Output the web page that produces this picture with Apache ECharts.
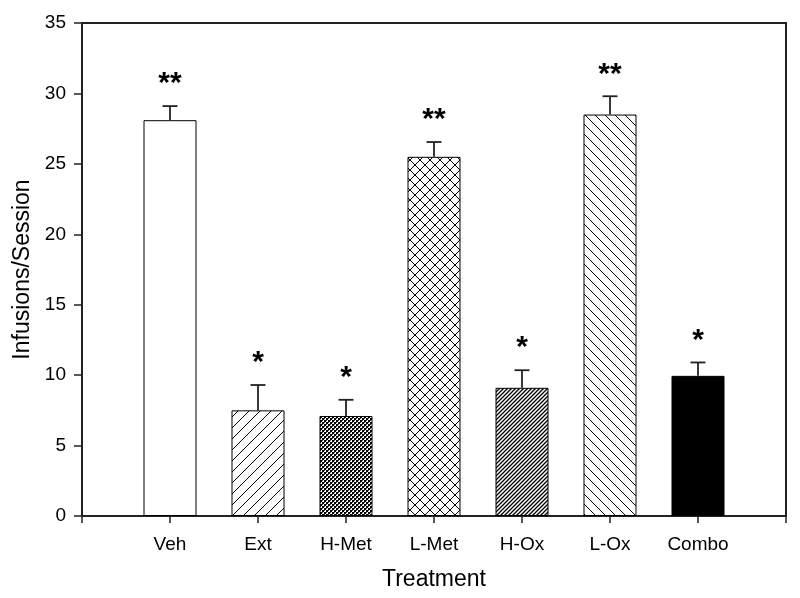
<!DOCTYPE html>
<html>
<head>
<meta charset="utf-8">
<script src="https://cdn.jsdelivr.net/npm/echarts@6/dist/echarts.min.js"></script>
<style>html,body{margin:0;padding:0;background:#fff}#c{width:800px;height:598px}</style>
</head>
<body>
<div id="c"></div>
<script>
// ---- data ----
const categories = ['Veh', 'Ext', 'H-Met', 'L-Met', 'H-Ox', 'L-Ox', 'Combo'];
const means = [28.1, 7.5, 7.1, 25.5, 9.1, 28.5, 9.95];
const errors = [1.0, 1.8, 1.15, 1.05, 1.25, 1.3, 0.95];
const stars = ['**', '*', '*', '**', '*', '**', '*'];
const yTicks = [0, 5, 10, 15, 20, 25, 30, 35];

// ---- patterns ----
function tile(size, draw, bg) {
  const c = document.createElement('canvas');
  c.width = size; c.height = size;
  const ctx = c.getContext('2d');
  ctx.fillStyle = bg || '#fff';
  ctx.fillRect(0, 0, size, size);
  ctx.strokeStyle = '#000';
  ctx.fillStyle = '#000';
  draw(ctx, size);
  return { image: c, repeat: 'repeat' };
}
function fwd(ctx, s) {
  ctx.beginPath();
  ctx.moveTo(-1, s + 1); ctx.lineTo(s + 1, -1);
  ctx.moveTo(-1, 1); ctx.lineTo(1, -1);
  ctx.moveTo(s - 1, s + 1); ctx.lineTo(s + 1, s - 1);
  ctx.stroke();
}
function back(ctx, s) {
  ctx.beginPath();
  ctx.moveTo(-1, -1); ctx.lineTo(s + 1, s + 1);
  ctx.moveTo(s - 1, -1); ctx.lineTo(s + 1, 1);
  ctx.moveTo(-1, s - 1); ctx.lineTo(1, s + 1);
  ctx.stroke();
}
const fills = [
  '#ffffff',
  tile(11, (ctx, s) => { ctx.lineWidth = 1; fwd(ctx, s); }),
  tile(4, (ctx, s) => { ctx.fillRect(0, 0, 2, 2); ctx.fillRect(2, 2, 2, 2); ctx.fillStyle='#444'; ctx.fillRect(2,0,1,1); ctx.fillRect(0,2,1,1); }),
  tile(10, (ctx, s) => { ctx.lineWidth = 1; fwd(ctx, s); back(ctx, s); }),
  tile(4, (ctx, s) => { ctx.lineWidth = 1.3; fwd(ctx, s); }),
  tile(10, (ctx, s) => { ctx.lineWidth = 1; back(ctx, s); }),
  '#000000'
];

const font = 'Arial, "Liberation Sans", Helvetica, sans-serif';

const barData = categories.map((c, i) => ({
  value: [i + 1, means[i]],
  itemStyle: { color: fills[i], borderColor: '#000', borderWidth: 1 }
}));
const errData = categories.map((c, i) => [i + 1, means[i], means[i] + errors[i], i]);

const chart = echarts.init(document.getElementById('c'), null, { renderer: 'canvas' });
chart.setOption({
  animation: false,
  backgroundColor: '#fff',
  grid: { left: 82, right: 14, top: 23, bottom: 82, show: true, borderColor: '#222', borderWidth: 2, backgroundColor: 'transparent' },
  xAxis: {
    type: 'value', min: 0, max: 8, interval: 1,
    name: 'Treatment', nameLocation: 'middle', nameGap: 52,
    nameTextStyle: { fontSize: 23, color: '#000', fontFamily: font },
    axisLine: { show: true, onZero: false, lineStyle: { color: '#222', width: 2 } },
    axisTick: { show: true, inside: false, length: 7, lineStyle: { color: '#222', width: 1.5 } },
    splitLine: { show: false },
    axisLabel: {
      margin: 19, fontSize: 19, color: '#000', fontFamily: font,
      formatter: v => (v >= 1 && v <= categories.length) ? categories[v - 1] : ''
    }
  },
  yAxis: {
    type: 'value', min: 0, max: 35, interval: 5,
    name: 'Infusions/Session', nameLocation: 'middle', nameGap: 48,
    nameTextStyle: { fontSize: 23, color: '#000', fontFamily: font },
    axisLine: { show: true, lineStyle: { color: '#222', width: 2 } },
    axisTick: { show: true, inside: false, length: 8, lineStyle: { color: '#222', width: 1.5 } },
    splitLine: { show: false },
    axisLabel: { margin: 16, fontSize: 19, color: '#000', fontFamily: font,
      formatter: v => yTicks.includes(v) ? String(v) : '' }
  },
  series: [
    {
      type: 'bar',
      barWidth: 53,
      data: barData,
      z: 2
    },
    {
      type: 'custom',
      z: 3,
      data: errData,
      renderItem: function (params, api) {
        const x = api.value(0);
        const lo = api.coord([x, api.value(1)]);
        const hi = api.coord([x, api.value(2)]);
        const idx = api.value(3);
        const cap = 7.5;
        const style = { stroke: '#222', lineWidth: 1.8 };
        return {
          type: 'group',
          children: [
            { type: 'line', shape: { x1: lo[0], y1: lo[1], x2: hi[0], y2: hi[1] }, style: style },
            { type: 'line', shape: { x1: hi[0] - cap, y1: hi[1], x2: hi[0] + cap, y2: hi[1] }, style: style },
            { type: 'text', style: { text: stars[idx], x: hi[0], y: hi[1] - 22, align: 'center', verticalAlign: 'middle',
              fontSize: 30, fontWeight: 'bold', fontFamily: font, fill: '#000' } }
          ]
        };
      }
    }
  ]
});
</script>
</body>
</html>
